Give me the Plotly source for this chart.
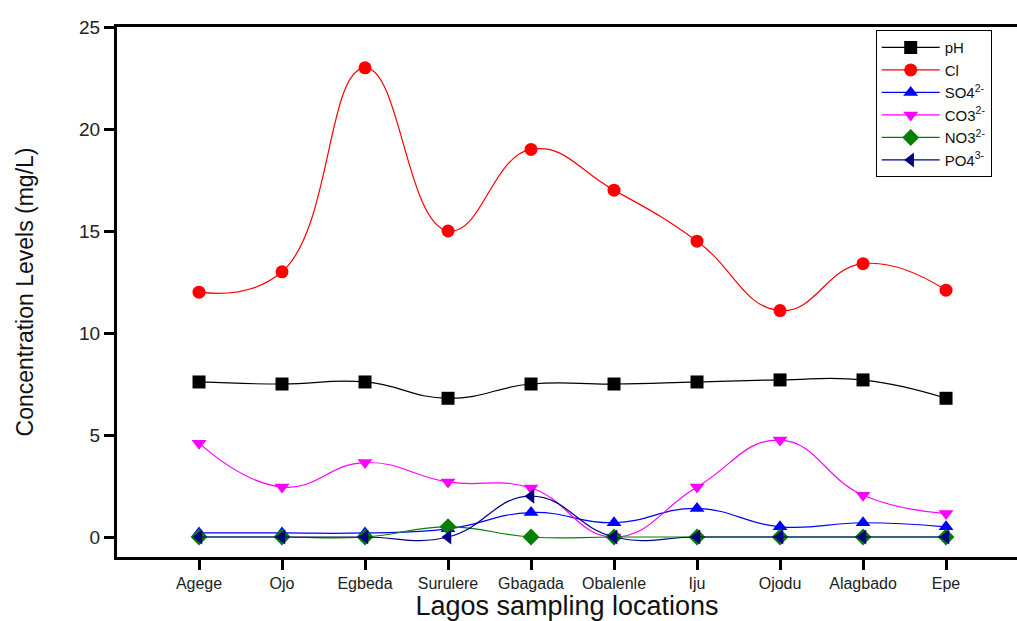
import plotly.graph_objects as go

locations = ["Agege", "Ojo", "Egbeda", "Surulere", "Gbagada", "Obalenle", "Iju", "Ojodu", "Alagbado", "Epe"]
ph = [7.6, 7.5, 7.6, 6.8, 7.5, 7.5, 7.6, 7.7, 7.7, 6.8]
cl = [12.0, 13.0, 23.0, 15.0, 19.0, 17.0, 14.5, 11.1, 13.4, 12.1]
so4 = [0.2, 0.2, 0.2, 0.4, 1.2, 0.7, 1.4, 0.5, 0.7, 0.5]
co3 = [4.6, 2.45, 3.65, 2.7, 2.4, 0.0, 2.45, 4.75, 2.05, 1.15]
no3 = [0.0, 0.0, 0.0, 0.5, 0.0, 0.0, 0.0, 0.0, 0.0, 0.0]
po4 = [0.0, 0.0, 0.0, 0.0, 2.0, 0.0, 0.0, 0.0, 0.0, 0.0]

series = [
    ("pH", ph, "#000000", "square"),
    ("Cl", cl, "#FF0000", "circle"),
    ("SO4<sup>2-</sup>", so4, "#0000FF", "triangle-up"),
    ("CO3<sup>2-</sup>", co3, "#FF00FF", "triangle-down"),
    ("NO3<sup>2-</sup>", no3, "#008000", "diamond"),
    ("PO4<sup>3-</sup>", po4, "#000080", "triangle-left"),
]

fig = go.Figure()
for name, vals, color, sym in series:
    fig.add_trace(go.Scatter(
        x=locations, y=vals, name=name, mode="lines+markers",
        line=dict(color=color, width=1.2, shape="spline", smoothing=1.3),
        marker=dict(color=color, symbol=sym, size=13, line=dict(width=0)),
    ))

font_family = "Liberation Sans, Arial, sans-serif"
fig.update_layout(
    width=1017, height=621,
    margin=dict(l=117, r=0, t=27, b=64),
    paper_bgcolor="white", plot_bgcolor="white",
    font=dict(family=font_family, color="#111111"),
    showlegend=True,
    legend=dict(
        x=0.843, y=0.994, xanchor="left", yanchor="top",
        bgcolor="white", bordercolor="#000000", borderwidth=1,
        font=dict(size=15, color="#111111"), itemwidth=58,
        tracegroupgap=0,
    ),
    xaxis=dict(
        type="category", range=[-0.988, 9.855], automargin=False,
        showline=True, linecolor="black", linewidth=3, mirror=True,
        ticks="outside", ticklen=10, tickwidth=3, tickcolor="black",
        tickfont=dict(size=16, color="#222222"),
        showgrid=False, zeroline=False,
        title=dict(text="Lagos sampling locations", font=dict(size=27, color="#111111"), standoff=10),
    ),
    yaxis=dict(
        range=[-0.98, 25], tickvals=[0, 5, 10, 15, 20, 25], automargin=False,
        showline=True, linecolor="black", linewidth=3, mirror=False,
        ticks="outside", ticklen=10, tickwidth=3, tickcolor="black",
        tickfont=dict(size=19, color="#222222"),
        showgrid=False, zeroline=False,
        title=dict(text="Concentration Levels (mg/L)", font=dict(size=23, color="#111111"), standoff=40),
    ),
)

fig.write_html("out.html")
